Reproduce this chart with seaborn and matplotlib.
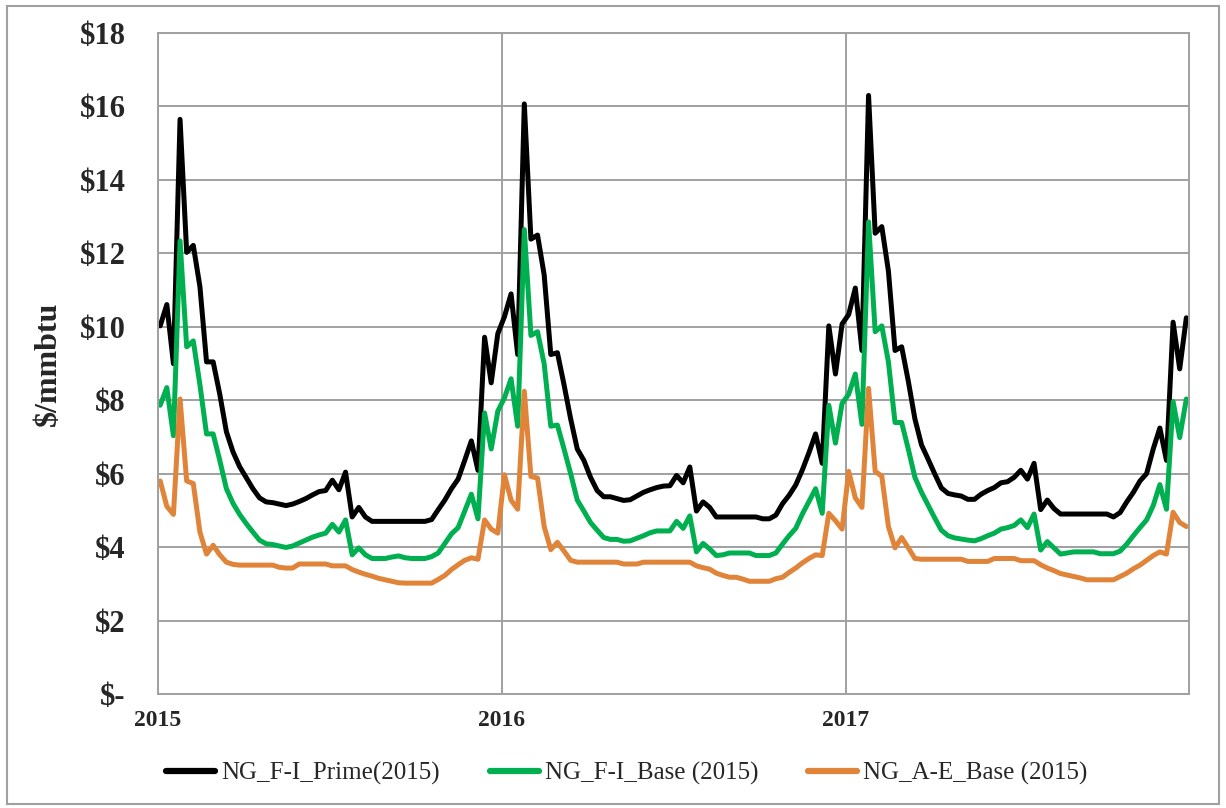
"""
Weekly natural gas price scenarios, 2015-2017.
"""

import matplotlib
matplotlib.use("Agg")  # Non-interactive backend
import matplotlib.pyplot as plt
import seaborn as sns
import numpy as np
import pandas as pd

# ── Data ─────────────────────────────────────────────────────────
years = ["2015", "2016", "2017"]
series_names = ["NG_F-I_Prime(2015)", "NG_F-I_Base (2015)", "NG_A-E_Base (2015)"]

prime = [
    10.03, 10.61, 9.0, 15.65, 12.03, 12.22, 11.1, 9.05, 9.05, 8.17,
    7.15, 6.6, 6.2, 5.9, 5.6, 5.35, 5.24, 5.22, 5.18, 5.14,
    5.18, 5.25, 5.33, 5.43, 5.52, 5.55, 5.83, 5.57, 6.05, 4.83,
    5.09, 4.83, 4.71, 4.71, 4.71, 4.71, 4.71, 4.71, 4.71, 4.71,
    4.71, 4.76, 5.03, 5.29, 5.6, 5.86, 6.37, 6.9, 6.1, 9.72,
    8.48, 9.82,
    10.28, 10.9, 9.25, 16.07, 12.39, 12.5, 11.42, 9.25, 9.3, 8.43,
    7.5, 6.68, 6.37, 5.91, 5.55, 5.38, 5.38, 5.33, 5.28, 5.3,
    5.4, 5.5, 5.57, 5.63, 5.67, 5.68, 5.96, 5.76, 6.19, 4.99,
    5.24, 5.09, 4.83, 4.83, 4.83, 4.83, 4.83, 4.83, 4.83, 4.78,
    4.78, 4.88, 5.19, 5.42, 5.7, 6.11, 6.58, 7.09, 6.29, 10.03,
    8.72, 10.08,
    10.34, 11.06, 9.36, 16.3, 12.55, 12.73, 11.52, 9.36, 9.46, 8.53,
    7.5, 6.79, 6.4, 6.0, 5.62, 5.47, 5.43, 5.4, 5.31, 5.31,
    5.45, 5.55, 5.63, 5.76, 5.79, 5.91, 6.1, 5.86, 6.29, 5.03,
    5.29, 5.06, 4.91, 4.91, 4.91, 4.91, 4.91, 4.91, 4.91, 4.91,
    4.83, 4.95, 5.24, 5.5, 5.81, 6.01, 6.68, 7.25, 6.37, 10.13,
    8.86, 10.25,
]

base_fi = [
    7.87, 8.35, 7.04, 12.34, 9.46, 9.62, 8.43, 7.09, 7.09, 6.37,
    5.6, 5.2, 4.9, 4.65, 4.42, 4.2, 4.1, 4.08, 4.04, 4.0,
    4.04, 4.12, 4.2, 4.28, 4.34, 4.39, 4.63, 4.42, 4.75, 3.8,
    3.99, 3.8, 3.7, 3.7, 3.7, 3.74, 3.77, 3.72, 3.7, 3.7,
    3.7, 3.75, 3.85, 4.11, 4.37, 4.54, 4.99, 5.45, 4.78, 7.66,
    6.68, 7.71,
    8.07, 8.59, 7.3, 12.65, 9.77, 9.87, 9.0, 7.3, 7.33, 6.68,
    6.01, 5.29, 4.99, 4.68, 4.47, 4.27, 4.22, 4.22, 4.17, 4.18,
    4.25, 4.32, 4.4, 4.45, 4.45, 4.45, 4.71, 4.52, 4.86, 3.88,
    4.11, 3.96, 3.78, 3.8, 3.85, 3.85, 3.85, 3.85, 3.78, 3.78,
    3.78, 3.85, 4.09, 4.32, 4.52, 4.91, 5.25, 5.6, 4.93, 7.87,
    6.84, 7.92,
    8.17, 8.72, 7.35, 12.86, 9.87, 10.03, 9.05, 7.4, 7.4, 6.68,
    5.91, 5.5, 5.15, 4.8, 4.47, 4.32, 4.26, 4.23, 4.2, 4.18,
    4.24, 4.32, 4.39, 4.5, 4.54, 4.6, 4.75, 4.54, 4.91, 3.93,
    4.16, 3.99, 3.82, 3.85, 3.88, 3.88, 3.88, 3.88, 3.83, 3.83,
    3.83, 3.9, 4.09, 4.32, 4.54, 4.75, 5.14, 5.71, 5.04, 7.97,
    6.99, 8.04,
]

base_ae = [
    5.81, 5.12, 4.9, 8.04, 5.81, 5.74, 4.42, 3.82, 4.06, 3.8,
    3.6, 3.54, 3.52, 3.52, 3.52, 3.52, 3.52, 3.52, 3.46, 3.44,
    3.44, 3.55, 3.55, 3.55, 3.55, 3.55, 3.5, 3.5, 3.5, 3.4,
    3.33, 3.27, 3.22, 3.16, 3.12, 3.08, 3.04, 3.03, 3.03, 3.03,
    3.03, 3.03, 3.13, 3.24, 3.4, 3.53, 3.65, 3.72, 3.68, 4.75,
    4.5, 4.39,
    5.98, 5.29, 5.04, 8.25, 5.93, 5.89, 4.57, 3.94, 4.14, 3.9,
    3.65, 3.6, 3.6, 3.6, 3.6, 3.6, 3.6, 3.6, 3.55, 3.55,
    3.55, 3.6, 3.6, 3.6, 3.6, 3.6, 3.6, 3.6, 3.6, 3.5,
    3.45, 3.41, 3.3, 3.24, 3.19, 3.19, 3.14, 3.08, 3.08, 3.08,
    3.08, 3.15, 3.19, 3.32, 3.44, 3.58, 3.7, 3.8, 3.78, 4.93,
    4.73, 4.5,
    6.07, 5.35, 5.09, 8.33, 6.07, 5.94, 4.57, 3.99, 4.27, 3.99,
    3.7, 3.68, 3.68, 3.68, 3.68, 3.68, 3.68, 3.68, 3.62, 3.62,
    3.62, 3.62, 3.7, 3.7, 3.7, 3.7, 3.64, 3.64, 3.64, 3.53,
    3.44, 3.37, 3.29, 3.25, 3.21, 3.17, 3.12, 3.12, 3.12, 3.12,
    3.12, 3.21, 3.3, 3.42, 3.52, 3.65, 3.78, 3.88, 3.82, 4.96,
    4.68, 4.57,
]

y_ticks = [0, 2, 4, 6, 8, 10, 12, 14, 16, 18]
y_tick_labels = ["\\$-", "\\$2", "\\$4", "\\$6", "\\$8", "\\$10",
                 "\\$12", "\\$14", "\\$16", "\\$18"]

# ── Style ─────────────────────────────────────────────────────────
sns.set_style("white")
plt.rcParams["font.family"] = ["Liberation Serif", "DejaVu Serif"]
PALETTE = dict(zip(series_names, ["#000000", "#00B050", "#E0843A"]))
GRID = "#A0A0A0"

WEEKS_PER_YEAR = 52
week = np.arange(len(prime)) + 0.4
df = pd.DataFrame({"week": week, series_names[0]: prime,
                   series_names[1]: base_fi, series_names[2]: base_ae})
long_df = df.melt(id_vars="week", var_name="series", value_name="price")

fig = plt.figure(figsize=(12.26, 8.08), dpi=100)
ax = fig.add_axes([0.1285, 0.1405, 0.8413, 0.8187])

sns.lineplot(data=long_df, x="week", y="price", hue="series",
             hue_order=series_names, palette=PALETTE, linewidth=3.6,
             ax=ax, legend=False)

ax.set_xlim(0, WEEKS_PER_YEAR * 3 - 0.2)
ax.set_ylim(0, 18)
year_pos = [WEEKS_PER_YEAR * k for k in range(len(years))]
ax.set_xticks(year_pos)
ax.set_xticklabels(years, fontsize=17, fontweight="bold")
ax.set_yticks(y_ticks)
ax.set_yticklabels(y_tick_labels, fontsize=22, fontweight="bold")
ax.tick_params(axis="both", length=7, width=1.3, color=GRID, direction="out", pad=4)
ax.tick_params(axis="y", pad=16)
ax.grid(True, color=GRID, linewidth=1.4)
ax.set_axisbelow(True)
for sp in ax.spines.values():
    sp.set_color(GRID)
    sp.set_linewidth(1.4)
ax.set_xlabel("")
ax.set_ylabel("\\$/mmbtu", fontsize=23, fontweight="bold", labelpad=12)

handles = [plt.Line2D([], [], color=PALETTE[n], linewidth=4.5) for n in series_names]
fig.legend(handles, series_names, loc="center", bbox_to_anchor=(0.5114, 0.043),
           ncol=3, frameon=False, fontsize=18, handlelength=1.96,
           handletextpad=0.24, columnspacing=2.0)

fig.add_artist(plt.Rectangle((0.006, 0.005), 0.988, 0.988, transform=fig.transFigure,
                             fill=False, edgecolor="#A0A0A0", linewidth=1.5))

fig.savefig("out.png", dpi=100)
plt.close(fig)
